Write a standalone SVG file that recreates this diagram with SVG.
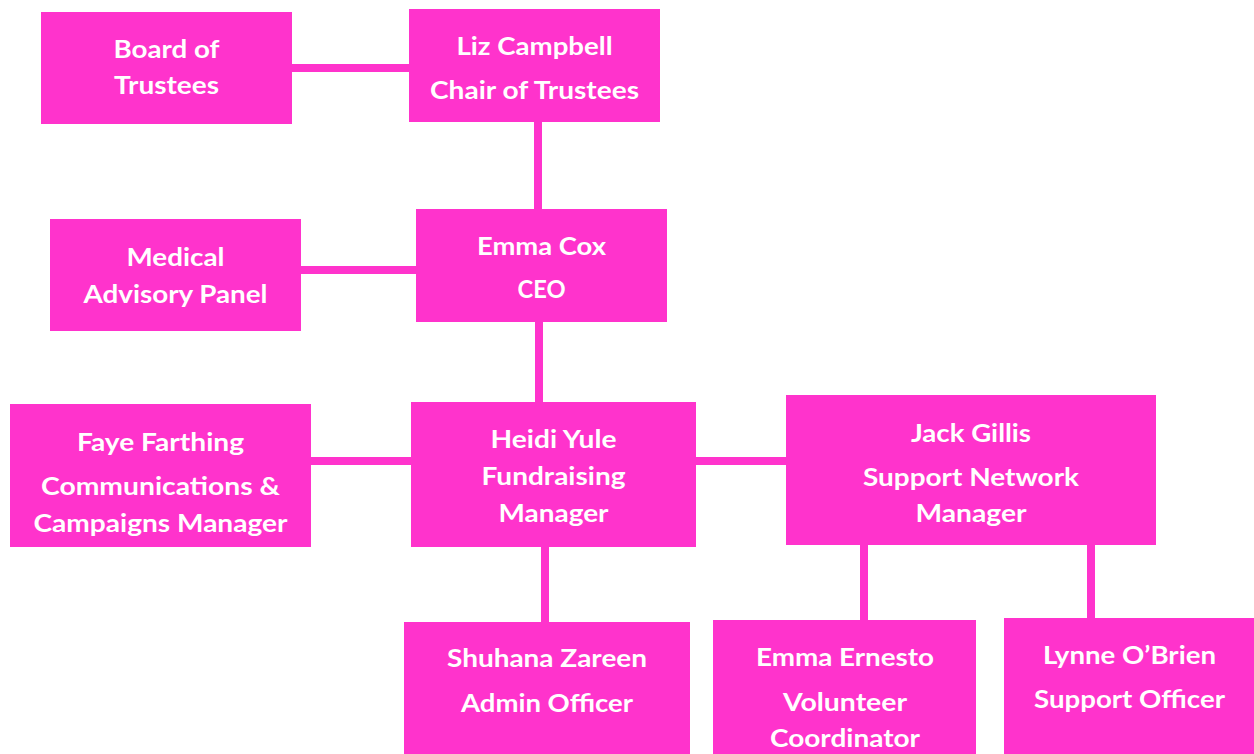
<svg xmlns="http://www.w3.org/2000/svg" width="1254" height="754" viewBox="0 0 1254 754">
<style>
.box{fill:#FF33CC}
.t{font-family:Lato,"Open Sans","Liberation Sans",sans-serif;font-weight:bold;font-size:25px;fill:#FFFFFF;text-anchor:middle}
.c{stroke:#FF33CC;stroke-width:8;fill:none}
</style>
<rect width="1254" height="754" fill="#FFFFFF"/>
<g id="connectors">
<line class="c" x1="292" y1="68" x2="409" y2="68"/>
<line class="c" x1="538" y1="122" x2="538" y2="209"/>
<line class="c" x1="301" y1="270" x2="416" y2="270"/>
<line class="c" x1="539" y1="322" x2="539" y2="402"/>
<line class="c" x1="311" y1="461" x2="411" y2="461"/>
<line class="c" x1="696" y1="461" x2="786" y2="461"/>
<line class="c" x1="545" y1="547" x2="545" y2="622"/>
<line class="c" x1="864" y1="545" x2="864" y2="620"/>
<line class="c" x1="1091" y1="545" x2="1091" y2="618"/>
</g>
<g id="board">
<rect class="box" x="41" y="12" width="251" height="112"/>
<text class="t" x="166.5" y="58" textLength="106" lengthAdjust="spacingAndGlyphs">Board of</text>
<text class="t" x="166.5" y="94" textLength="105" lengthAdjust="spacingAndGlyphs">Trustees</text>
</g>
<g id="liz">
<rect class="box" x="409" y="9" width="251" height="113"/>
<text class="t" x="534.5" y="55" textLength="156" lengthAdjust="spacingAndGlyphs">Liz Campbell</text>
<text class="t" x="534.5" y="99" textLength="209" lengthAdjust="spacingAndGlyphs">Chair of Trustees</text>
</g>
<g id="emmacox">
<rect class="box" x="416" y="209" width="251" height="113"/>
<text class="t" x="541.5" y="255" textLength="129" lengthAdjust="spacingAndGlyphs">Emma Cox</text>
<text class="t" x="541.5" y="298" textLength="48" lengthAdjust="spacingAndGlyphs">CEO</text>
</g>
<g id="medical">
<rect class="box" x="50" y="219" width="251" height="112"/>
<text class="t" x="175.5" y="266" textLength="98" lengthAdjust="spacingAndGlyphs">Medical</text>
<text class="t" x="175.5" y="303" textLength="184" lengthAdjust="spacingAndGlyphs">Advisory Panel</text>
</g>
<g id="faye">
<rect class="box" x="10" y="404" width="301" height="143"/>
<text class="t" x="160.5" y="451" textLength="167" lengthAdjust="spacingAndGlyphs">Faye Farthing</text>
<text class="t" x="160.5" y="495" textLength="239" lengthAdjust="spacingAndGlyphs">Communications &amp;</text>
<text class="t" x="160.5" y="532" textLength="254" lengthAdjust="spacingAndGlyphs">Campaigns Manager</text>
</g>
<g id="heidi">
<rect class="box" x="411" y="402" width="285" height="145"/>
<text class="t" x="553.5" y="448" textLength="126" lengthAdjust="spacingAndGlyphs">Heidi Yule</text>
<text class="t" x="553.5" y="485" textLength="144" lengthAdjust="spacingAndGlyphs">Fundraising</text>
<text class="t" x="553.5" y="522" textLength="110" lengthAdjust="spacingAndGlyphs">Manager</text>
</g>
<g id="jack">
<rect class="box" x="786" y="395" width="370" height="150"/>
<text class="t" x="971" y="442" textLength="120" lengthAdjust="spacingAndGlyphs">Jack Gillis</text>
<text class="t" x="971" y="486" textLength="216" lengthAdjust="spacingAndGlyphs">Support Network</text>
<text class="t" x="971" y="522" textLength="111" lengthAdjust="spacingAndGlyphs">Manager</text>
</g>
<g id="shuhana">
<rect class="box" x="404" y="622" width="286" height="132"/>
<text class="t" x="547" y="667" textLength="200" lengthAdjust="spacingAndGlyphs">Shuhana Zareen</text>
<text class="t" x="547" y="712" textLength="172" lengthAdjust="spacingAndGlyphs">Admin Officer</text>
</g>
<g id="ernesto">
<rect class="box" x="713" y="620" width="263" height="134"/>
<text class="t" x="845" y="666" textLength="178" lengthAdjust="spacingAndGlyphs">Emma Ernesto</text>
<text class="t" x="845" y="711" textLength="124" lengthAdjust="spacingAndGlyphs">Volunteer</text>
<text class="t" x="845" y="747" textLength="150" lengthAdjust="spacingAndGlyphs">Coordinator</text>
</g>
<g id="lynne">
<rect class="box" x="1004" y="618" width="250" height="136"/>
<text class="t" x="1129.5" y="664" textLength="173" lengthAdjust="spacingAndGlyphs">Lynne O’Brien</text>
<text class="t" x="1129.5" y="708" textLength="191" lengthAdjust="spacingAndGlyphs">Support Officer</text>
</g>
</svg>
